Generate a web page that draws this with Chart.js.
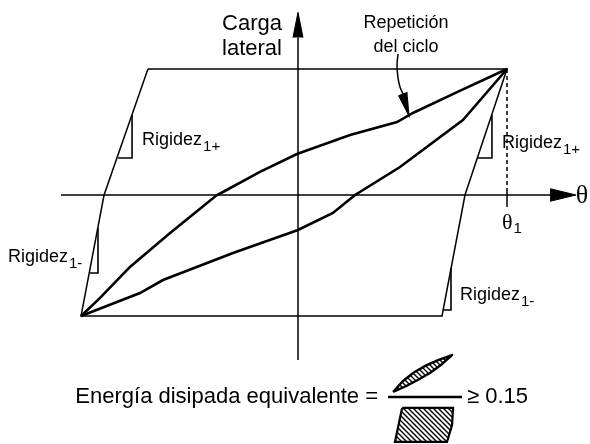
<!DOCTYPE html>
<html>
<head>
<meta charset="utf-8">
<script src="https://cdn.jsdelivr.net/npm/chart.js@4/dist/chart.umd.min.js"></script>
<style>
html,body{margin:0;padding:0;background:#fff;}
canvas{display:block;}
</style>
</head>
<body>
<canvas id="c" width="590" height="444"></canvas>
<script>
// Units: x = θ/θ1 (θ1 = 1), y = lateral load / peak load
const outerLoopX = [-0.718, 1.0, 0.799, 0.689, -1.038, -0.928, -0.718];
const outerLoopY = [1.0, 1.0, 0.0, -0.960, -0.960, 0.0, 1.0];

const upperCurveX = [-1.038, -0.947, -0.804, -0.612, -0.388, -0.359, -0.182, -0.005, 0.249, 0.474, 0.550, 0.761, 1.0];
const upperCurveY = [-0.960, -0.817, -0.571, -0.302, 0.0, 0.024, 0.183, 0.325, 0.476, 0.579, 0.651, 0.817, 1.0];

const lowerCurveX = [-1.038, -0.756, -0.646, -0.311, 0.0, 0.167, 0.273, 0.488, 0.789, 1.0];
const lowerCurveY = [-0.960, -0.778, -0.675, -0.460, -0.278, -0.143, 0.0, 0.222, 0.595, 1.0];

const stiffTopLeftX = [-0.861, -0.794, -0.794];
const stiffTopLeftY = [0.294, 0.294, 0.635];
const stiffLowLeftX = [-0.995, -0.957, -0.957];
const stiffLowLeftY = [-0.619, -0.619, -0.262];
const stiffTopRightX = [0.861, 0.928, 0.928];
const stiffTopRightY = [0.294, 0.294, 0.635];
const stiffLowRightX = [0.694, 0.732, 0.732];
const stiffLowRightY = [-0.913, -0.913, -0.579];

const thetaAxisX = [-1.134, 1.21];
const thetaAxisY = [0, 0];
const loadAxisX = [0, 0];
const loadAxisY = [-1.31, 1.25];
const thetaArrowX = [1.206, 1.330, 1.206];
const thetaArrowY = [0.05, 0, -0.05];
const loadArrowX = [-0.024, 0, 0.024];
const loadArrowY = [1.25, 1.45, 1.25];

const theta1DashX = [1, 1];
const theta1DashY = [1, 0.056];
const theta1TickX = [1, 1];
const theta1TickY = [0.056, -0.095];

const noteCurveX = [0.4785, 0.4737, 0.4785, 0.4880, 0.5024];
const noteCurveY = [1.119, 1.024, 0.929, 0.857, 0.802];
const noteHeadX = [0.5235, 0.4813, 0.5345];
const noteHeadY = [0.815, 0.788, 0.615];

const lensX = [0.455, 0.501, 0.554, 0.611, 0.673, 0.737, 0.687, 0.633, 0.575, 0.516, 0.455];
const lensY = [-1.563, -1.478, -1.409, -1.354, -1.309, -1.270, -1.345, -1.411, -1.466, -1.518, -1.563];
const fracBarX = [0.431, 0.785];
const fracBarY = [-1.603, -1.603];
const boxX = [0.498, 0.742, 0.737, 0.713, 0.464, 0.498];
const boxY = [-1.690, -1.690, -1.825, -1.960, -1.960, -1.690];

const labelTexts = {
  load1: 'Carga', load2: 'lateral',
  note1: 'Repetición', note2: 'del ciclo',
  stiff: 'Rigidez', subPlus: '1+', subMinus: '1-',
  theta: '\u03B8', sub1: '1',
  formula: 'Energía disipada equivalente =', bound: '\u2265 0.15'
};

function pts(xs, ys) { return xs.map((x, i) => ({x: x, y: ys[i]})); }

function hatch() {
  const c = document.createElement('canvas');
  c.width = 5; c.height = 5;
  const g = c.getContext('2d');
  g.fillStyle = '#fff'; g.fillRect(0, 0, 5, 5);
  g.strokeStyle = '#000'; g.lineWidth = 1.4;
  g.beginPath();
  g.moveTo(-1, -1); g.lineTo(6, 6);
  g.moveTo(-1, 4); g.lineTo(1, 6);
  g.moveTo(4, -1); g.lineTo(6, 1);
  g.stroke();
  return g.createPattern(c, 'repeat');
}
const pat = hatch();

function line(xs, ys, w, extra) {
  return Object.assign({
    data: pts(xs, ys), showLine: true, pointRadius: 0, borderColor: '#000',
    borderWidth: w, fill: false, tension: 0, borderCapStyle: 'butt', borderJoinStyle: 'miter'
  }, extra || {});
}
function solid(xs, ys) {
  return line(xs, ys, 1, {fill: 'shape', backgroundColor: '#000'});
}

const SANS = '"Liberation Sans", Arial, sans-serif';
const SERIF = '"Liberation Serif", "Times New Roman", serif';

const labels = [
  {t: labelTexts.load1, x: -0.0766, y: 1.3095, align: 'right', font: '22px ' + SANS},
  {t: labelTexts.load2, x: -0.0766, y: 1.111, align: 'right', font: '22px ' + SANS},
  {t: labelTexts.note1, x: 0.517, y: 1.325, align: 'center', font: '18px ' + SANS},
  {t: labelTexts.note2, x: 0.517, y: 1.135, align: 'center', font: '18px ' + SANS},
  {t: labelTexts.stiff, sub: labelTexts.subPlus, x: -0.746, y: 0.397, font: '18px ' + SANS},
  {t: labelTexts.stiff, sub: labelTexts.subPlus, x: 0.976, y: 0.373, font: '18px ' + SANS},
  {t: labelTexts.stiff, sub: labelTexts.subMinus, x: -1.388, y: -0.532, font: '18px ' + SANS},
  {t: labelTexts.stiff, sub: labelTexts.subMinus, x: 0.775, y: -0.833, font: '18px ' + SANS},
  {t: labelTexts.theta, sub: labelTexts.sub1, x: 0.976, y: -0.270, font: '22px ' + SERIF, subDy: 4},
  {t: labelTexts.theta, x: 1.359, y: -0.008, align: 'center', base: 'middle', font: '26px ' + SERIF},
  {t: labelTexts.formula, x: 0.383, y: -1.651, align: 'right', font: '22px ' + SANS},
  {t: labelTexts.bound, x: 0.809, y: -1.651, align: 'left', font: '22px ' + SANS}
];

const textPlugin = {
  id: 'texts',
  afterDatasetsDraw(chart) {
    const ctx = chart.ctx, sx = chart.scales.x, sy = chart.scales.y;
    ctx.save();
    ctx.fillStyle = '#000';
    labels.forEach(l => {
      const px = sx.getPixelForValue(l.x), py = sy.getPixelForValue(l.y);
      ctx.font = l.font;
      ctx.textAlign = l.align || 'left';
      ctx.textBaseline = l.base || 'alphabetic';
      ctx.fillText(l.t, px, py);
      if (l.sub) {
        const w = ctx.measureText(l.t).width;
        ctx.font = '15px ' + SANS;
        ctx.textAlign = 'left';
        ctx.fillText(l.sub, px + w + 1, py + (l.subDy !== undefined ? l.subDy : 6));
      }
    });
    ctx.restore();
  }
};

new Chart(document.getElementById('c'), {
  type: 'scatter',
  data: {
    datasets: [
      line(thetaAxisX, thetaAxisY, 1.5),
      line(loadAxisX, loadAxisY, 1.5),
      solid(thetaArrowX, thetaArrowY),
      solid(loadArrowX, loadArrowY),
      line(outerLoopX, outerLoopY, 1.5),
      line(upperCurveX, upperCurveY, 2.6),
      line(lowerCurveX, lowerCurveY, 2.6),
      line(stiffTopLeftX, stiffTopLeftY, 1.6),
      line(stiffLowLeftX, stiffLowLeftY, 1.6),
      line(stiffTopRightX, stiffTopRightY, 1.6),
      line(stiffLowRightX, stiffLowRightY, 1.6),
      line(theta1DashX, theta1DashY, 1.5, {borderDash: [4, 3]}),
      line(theta1TickX, theta1TickY, 1.5),
      line(noteCurveX, noteCurveY, 1.5, {tension: 0.4}),
      solid(noteHeadX, noteHeadY),
      line(lensX, lensY, 2.4, {fill: 'shape', backgroundColor: pat, tension: 0, borderJoinStyle: 'round'}),
      line(fracBarX, fracBarY, 2.5),
      line(boxX, boxY, 2.2, {fill: 'shape', backgroundColor: pat, tension: 0})
    ]
  },
  options: {
    responsive: false,
    animation: false,
    events: [],
    layout: {padding: 0},
    plugins: {legend: {display: false}, tooltip: {enabled: false}, title: {display: false}},
    scales: {
      x: {type: 'linear', min: -1.4258, max: 1.3971, display: false},
      y: {type: 'linear', min: -1.9762, max: 1.5476, display: false}
    }
  },
  plugins: [textPlugin]
});
</script>
</body>
</html>
